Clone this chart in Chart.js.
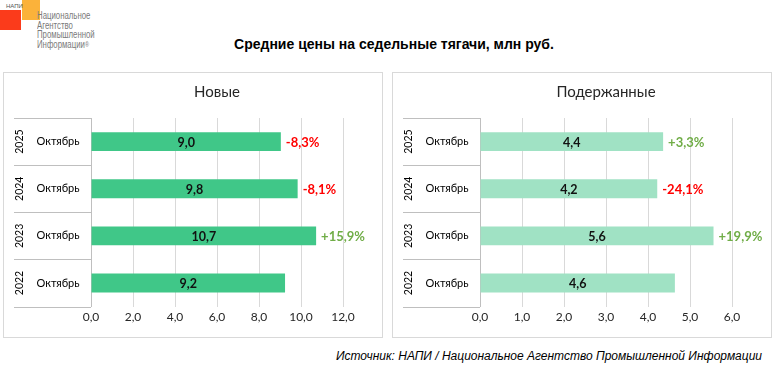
<!DOCTYPE html>
<html>
<head>
<meta charset="utf-8">
<script src="https://cdn.jsdelivr.net/npm/chart.js@4"></script>
<style>
  html, body { margin:0; padding:0; background:#fff; }
  body { width:780px; height:372px; position:relative; overflow:hidden; font-family:"Liberation Sans", Arial, sans-serif; }
  .panel { position:absolute; top:73px; width:378px; height:264px; outline:1px solid #d9d9d9; }
  #mainTitle { position:absolute; left:0; width:788px; top:36px; text-align:center; font-weight:bold; font-size:14px; color:#000; }
  #source { position:absolute; right:18px; top:349px; font-style:italic; font-size:12px; color:#000; }
  .logoRed { position:absolute; left:0; top:10px; width:21px; height:20px; background:#fb3b1b; }
  .logoOr { position:absolute; left:22px; top:0; width:18px; height:20px; background:#fbb23a; }
  .logoSmall { position:absolute; left:6px; top:3px; font-size:6px; color:#555; letter-spacing:0; }
  .logoText { position:absolute; left:37px; top:11px; font-size:10px; line-height:9.7px; color:#7a7a7a; transform:scaleX(0.78); transform-origin:left top; white-space:nowrap; }
</style>
</head>
<body>
<div class="logoRed"></div>
<div class="logoOr"></div>
<div class="logoSmall">НАПИ</div>
<div class="logoText">Национальное<br>Агентство<br>Промышленной<br>Информации<span style="font-size:7px;vertical-align:top">®</span></div>
<div id="mainTitle">Средние цены на седельные тягачи, млн руб.</div>
<div class="panel" style="left:4px;"><canvas id="cNew"></canvas></div>
<div class="panel" style="left:393px;"><canvas id="cUsed"></canvas></div>
<div id="source">Источник: НАПИ / Национальное Агентство Промышленной Информации</div>
<script>
// ---- data (chronological order; drawn bottom-to-top) ----
const years = ['2022', '2023', '2024', '2025'];
const months = ['Октябрь', 'Октябрь', 'Октябрь', 'Октябрь'];
const newPrices = [9.24, 10.72, 9.84, 9.04];
const newChanges = ['', '+15,9%', '-8,1%', '-8,3%'];
const usedPrices = [4.64, 5.56, 4.22, 4.36];
const usedChanges = ['', '+19,9%', '-24,1%', '+3,3%'];
const newTicks = { max: 12, step: 2 };
const usedTicks = { max: 6, step: 1 };

const FONT = 'Lato, "Open Sans", sans-serif';
const fmt = v => v.toFixed(1).replace('.', ',');

const categoryPlugin = {
  id: 'catAxis',
  afterDraw(chart, args, opts) {
    const ctx = chart.ctx;
    const ys = chart.scales.y;
    const area = chart.chartArea;
    const n = years.length;
    const step = (area.bottom - area.top) / n;
    ctx.save();
    ctx.strokeStyle = '#bfbfbf';
    ctx.lineWidth = 1;
    for (let i = 0; i <= n; i++) {
      const y = Math.round(area.top + i * step) + 0.5;
      ctx.beginPath();
      ctx.moveTo(10, y);
      ctx.lineTo(area.left, y);
      ctx.stroke();
    }
    ctx.fillStyle = '#000';
    ctx.textBaseline = 'middle';
    ctx.textAlign = 'center';
    for (let i = 0; i < n; i++) {
      const y = ys.getPixelForValue(i);
      ctx.font = '10.5px ' + FONT;
      ctx.save();
      ctx.translate(opts.yearX, y);
      ctx.rotate(-Math.PI / 2);
      ctx.fillText(years[i], 0, 0);
      ctx.restore();
      ctx.font = '11px ' + FONT;
      ctx.fillText(months[i], opts.monthX, y);
    }
    ctx.restore();
  }
};

const labelPlugin = {
  id: 'barLabels',
  afterDatasetsDraw(chart, args, opts) {
    const ctx = chart.ctx;
    const meta = chart.getDatasetMeta(0);
    const data = chart.data.datasets[0].data;
    ctx.save();
    ctx.textBaseline = 'middle';
    meta.data.forEach((bar, i) => {
      const p = bar.getProps(['x', 'y', 'base'], true);
      ctx.font = 'bold 12.5px ' + FONT;
      ctx.fillStyle = '#111';
      ctx.textAlign = 'center';
      ctx.fillText(fmt(data[i]), (p.x + p.base) / 2, p.y + 1);
      const ch = opts.changes[i];
      if (ch) {
        ctx.font = 'bold 13px ' + FONT;
        ctx.fillStyle = ch.startsWith('-') ? '#ff0000' : '#70ad47';
        ctx.textAlign = 'left';
        ctx.fillText(ch, p.x + 5, p.y + 1);
      }
    });
    ctx.restore();
  }
};

function makeChart(id, title, values, changes, ticks, color) {
  return new Chart(document.getElementById(id), {
    type: 'bar',
    data: {
      labels: years,
      datasets: [{ data: values, backgroundColor: color, borderWidth: 0, categoryPercentage: 1, barPercentage: 0.4 }]
    },
    options: {
      indexAxis: 'y',
      responsive: true,
      maintainAspectRatio: false,
      animation: false,
      layout: { padding: { left: 87, right: 39, top: 0, bottom: 10 } },
      plugins: {
        legend: { display: false },
        tooltip: { enabled: false },
        title: {
          display: true, text: title, color: '#262626',
          font: { family: FONT, size: 15, weight: 'normal' },
          padding: { top: 10, bottom: 17 }
        },
        catAxis: { yearX: 16, monthX: 54 },
        barLabels: { changes: changes }
      },
      scales: {
        x: {
          min: 0, max: ticks.max,
          ticks: { stepSize: ticks.step, callback: v => fmt(v), color: '#262626', font: { family: FONT, size: 12 }, padding: 3 },
          grid: { color: ctx => ctx.tick && ctx.tick.value === 0 ? '#bfbfbf' : '#d9d9d9', drawTicks: false },
          border: { display: false }
        },
        y: { display: false, reverse: true }
      }
    },
    plugins: [categoryPlugin, labelPlugin]
  });
}

makeChart('cNew', 'Новые', newPrices, newChanges, newTicks, '#40c788');
makeChart('cUsed', 'Подержанные', usedPrices, usedChanges, usedTicks, '#a0e2c4');
</script>
</body>
</html>
